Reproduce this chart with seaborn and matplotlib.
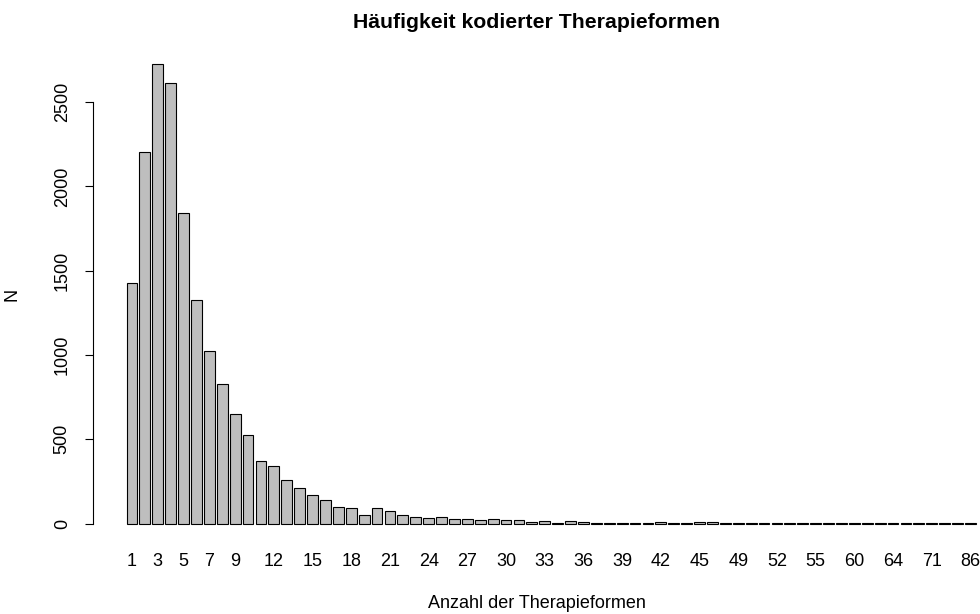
import numpy as np
import pandas as pd
import matplotlib
matplotlib.use("Agg")
import matplotlib.pyplot as plt
import seaborn as sns

sns.set_style("white")
plt.rcParams['font.family'] = ['Liberation Sans', 'DejaVu Sans']
plt.rcParams['text.color'] = 'black'
plt.rcParams['axes.labelcolor'] = 'black'
plt.rcParams['xtick.color'] = 'black'
plt.rcParams['ytick.color'] = 'black'

# Anzahl der Therapieformen (categories) and frequencies
categories = list(range(1, 48)) + [49, 50, 51, 52, 53, 54, 55, 56, 58, 60, 61, 62,
                                   64, 66, 68, 71, 75, 80, 86]
counts = [1426, 2201, 2723, 2610, 1839, 1325, 1022, 830, 652, 527,
          369, 343, 256, 212, 169, 141, 99, 93, 49, 93,
          77, 49, 38, 32, 40, 30, 30, 24, 30, 24,
          24, 12, 18, 6, 18, 7, 6, 5, 6, 5,
          2, 7, 2, 2, 7, 7, 2,
          2, 1, 2, 1, 1, 2, 1, 1, 1, 1, 1,
          1, 1, 1, 1, 1, 1, 1, 1]
shown_labels = [1, 3, 5, 7, 9, 12, 15, 18, 21, 24, 27, 30, 33, 36, 39, 42, 45,
                49, 52, 55, 60, 64, 71, 86]

df = pd.DataFrame({'anzahl': [str(c) for c in categories], 'n': counts})

fig = plt.figure(figsize=(9.8, 6.14), dpi=100)
ax = fig.add_axes([93 / 980, (614 - 542) / 614, (980 - 93) / 980, (542 - 46) / 614])

sns.barplot(data=df, x='anzahl', y='n', order=df['anzahl'], color='#BEBEBE',
            saturation=1, edgecolor='black', linewidth=0.8, width=0.833, ax=ax)

ax.set_xlim(-3.02, 65.74)
ax.set_ylim(-109, 2832)

# only the labels R had room for
pos = [categories.index(c) for c in shown_labels]
ax.set_xticks(pos)
ax.set_xticklabels([str(c) for c in shown_labels], fontsize=13)
ax.tick_params(axis='x', length=0, pad=8)

ax.set_yticks([0, 500, 1000, 1500, 2000, 2500])
ax.set_yticklabels(['0', '500', '1000', '1500', '2000', '2500'], rotation=90,
                   va='center', fontsize=13)
ax.tick_params(axis='y', length=6, width=0.8, pad=10, direction='out', left=True)

for s in ['top', 'right', 'bottom']:
    ax.spines[s].set_visible(False)
ax.spines['left'].set_bounds(0, 2500)
ax.spines['left'].set_linewidth(0.8)
ax.spines['left'].set_color('black')

ax.set_xlabel('Anzahl der Therapieformen', fontsize=13, labelpad=18)
ax.set_ylabel('N', fontsize=13, labelpad=24)
ax.set_title('Häufigkeit kodierter Therapieformen', fontsize=15.3, fontweight='bold', pad=13)

fig.savefig('out.png', dpi=100)
